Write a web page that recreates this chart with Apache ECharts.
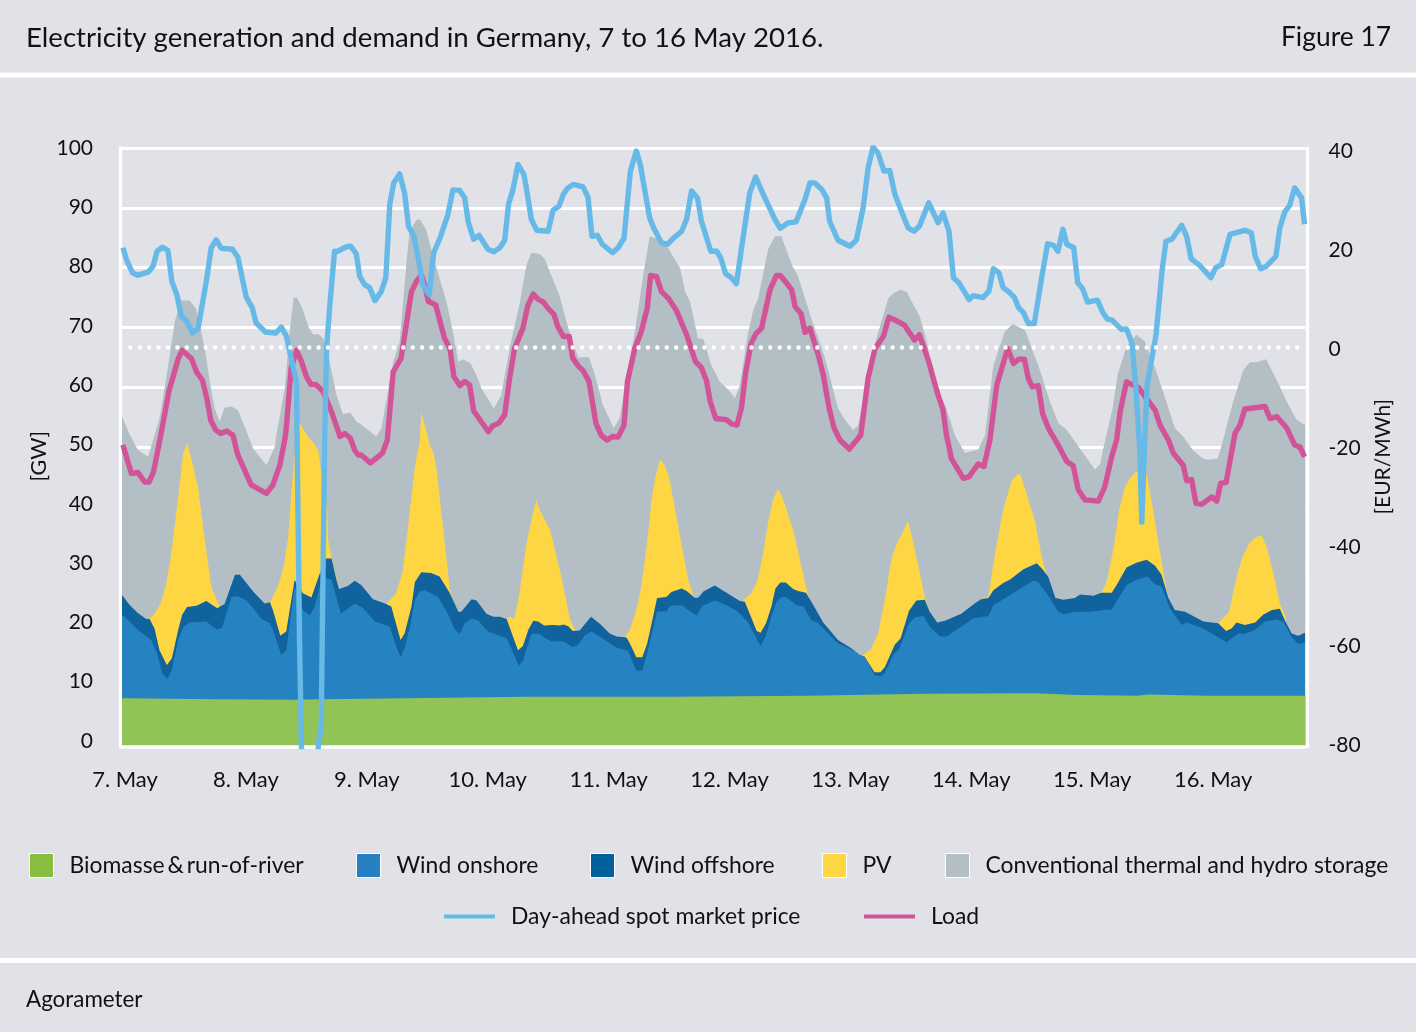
<!DOCTYPE html>
<html>
<head>
<meta charset="utf-8">
<style>
  html, body { margin: 0; padding: 0; background: #e1e2e7; }
  #chart { width: 1416px; height: 1032px; }
</style>
<script src="https://cdn.jsdelivr.net/npm/echarts@6/dist/echarts.min.js"></script>
</head>
<body>
<div id="chart"></div>
<script>
// hours since 7 May 00:00 at each visible kink
const priceHours = [
  0.2,0.9,2.1,3.2,5.3,6.3,7.1,8.2,9.3,10.1,
  11.2,12,13,14.3,15.4,17.1,18.1,19.1,20.1,22.4,
  23.5,25.2,26.4,27.2,29.1,31.2,32.3,33.3,34.3,35.4,
  35.5,36,36.4,36.7,37,38.5,39.6,39.8,40.4,40.6,
  41.1,41.5,42.1,43.1,43.8,45.5,46.4,47.5,48.2,49.2,
  50.2,51.3,52.6,53.5,54.3,55.1,56.3,57.3,58.1,59.2,
  60,61,62.3,63.2,64.4,66.1,67.1,68.5,69.5,70.2,
  71.3,72.4,74.2,75.4,76.6,77.6,78.4,79.3,80.3,81.5,
  82,83,84.1,86.4,87.4,88.6,89.5,90.3,91.5,93.5,
  94.5,95.3,96.4,97.4,99.5,100.6,101.8,103.1,104.3,105.1,
  107,107.8,109.4,110.6,111.8,113.5,114.5,115.5,116.7,117.5,
  119.4,120.6,121.4,122.4,123.6,124.6,125.6,127.3,128.5,129.9,
  132.4,133.5,135.1,136.7,138.5,139.5,140.5,141.9,142.9,143.5,
  145.2,147.6,148.9,150.3,151.3,152.3,153.3,154.5,155.7,156.7,
  158.3,159.4,160.6,161.7,163.6,165.5,166.5,167.7,168.6,169.7,
  171.8,172.6,174.6,175.8,176.7,177.8,178.7,179.9,181,181.8,
  182.8,183.8,185,186.5,187.7,188.9,189.8,190.8,191.6,193,
  193.8,194.8,195.8,197.8,198.9,199.8,200.8,202.7,203.7,204.8,
  205.6,206.4,206.8,207.3,207.9,209.7,210.9,211.7,212.9,214.9,
  215.9,216.8,218.7,220.8,221.8,223,224.7,227.7,229,229.8,
  230.9,232.1,234,234.8,235.8,236.8,237.8,239.2,239.8
];
const priceValues = [
  20,17.6,15,14.5,15.1,16.3,19.3,20.1,19.5,13.3,
  10.3,6.3,5.5,2.9,3.7,13.3,20,21.6,19.9,19.7,
  18.1,10.1,8,4.9,3.1,2.9,4.1,2.4,-2.1,-7.1,
  -18,-59,-80,-105,-130,-130,-92,-80,-75.9,-58.5,
  -18.4,-0.1,8,19.3,19.3,20.2,20.3,18.8,14.3,12.6,
  12,9.4,11.3,14,28.7,33,34.8,31,24.3,22.3,
  18.3,12.6,10.6,19,21.7,26.7,31.6,31.5,30,25.2,
  21.7,22.5,19.7,19.2,20,21.5,28.8,31.7,36.7,34.7,
  32,25.7,23.5,23.3,27.5,28.3,30.7,31.9,32.7,32.2,
  30.1,22.3,22.5,20.7,19,20,21.9,35.4,39.4,36.7,
  26,24,21,20.7,21.9,23.3,25.7,31.4,30,25.3,
  19.3,19.3,18,14.8,14,12.8,19.7,31,34.2,31,
  25.7,23.9,25,25.2,29.7,33,33,31.7,30,25.3,
  21.5,20.3,21.5,28,36,40.2,39,35.4,35.5,30.8,
  26.7,24,23.3,24.3,29,25,27,23.3,14,13,
  9.6,10.4,10,11.3,15.8,15,12,11.1,10,8,
  7,4.8,4.8,14,20.8,20.5,19.3,23.7,20.7,20,
  13,11.8,9.1,9.5,7,5.7,5.5,3.6,3.7,0.9,
  -8,-20.8,-35,-20.8,-7.4,2.6,15.3,21.3,21.7,24.5,
  22.3,17.8,16.3,14,16,16.6,22.7,23.5,23,18.3,
  15.8,16.3,18.3,24,27.2,28.5,32,30,24.7
];

const loadHours = [
  0.2,0.5,1.9,3.2,4.6,5.5,6.4,8,9.5,11.4,
  12.2,14.1,15.1,16.3,17.2,18,19,20,21.3,22.5,
  23.5,26.2,29.3,30.6,32,33,33.3,34.3,35.4,36.4,
  37.4,38.3,39.3,40.8,42.5,44.2,45.2,46.3,47.2,47.9,
  48.5,50.4,51.9,52.8,53.8,55,56.6,58.7,59.7,60.7,
  61.4,62.1,63.6,65.4,66.5,67.3,68.5,69.5,70.5,71.3,
  74.3,75.2,76.4,77.6,78.6,79.6,81.3,82.3,83.4,84.4,
  85.4,86.4,87.6,88.4,89.5,90.7,91.4,92.6,93.5,94.7,
  96.1,97.2,98.4,99.5,100.6,101.8,102.5,104,105.3,106.5,
  107.2,108.4,109.4,110.8,112.4,114.5,116.3,117.5,118.5,119.3,
  120.4,122.6,123.6,124.7,125.6,126.5,127.6,128.5,129.7,131.4,
  132.7,133.5,134.8,135.8,136.5,137.7,138.5,139.5,141.2,142.2,
  143.4,144.4,145.6,147.5,149.8,151.3,152.7,154.4,155.5,156.4,
  158.7,160.7,161.7,163.6,164.8,165.5,166.5,167.2,168.2,170.6,
  171.8,173.6,174.8,176,177.4,179.6,180.8,181.8,183,183.8,
  184.6,185.8,186.7,187.9,190.2,191.6,192.9,193.9,195.3,198,
  199.3,200.7,201.7,202.4,203.7,206.1,209.5,210.5,212.2,213.2,
  215.2,215.9,216.9,217.8,219,221,222,222.8,223.9,225.7,
  226.7,227.7,231.8,232.8,234.2,236.2,237.8,238.9,239.8
];
const loadValues = [
  50.4,49.5,45.6,45.8,44.2,44.2,45.9,52.6,59.3,64.8,
  66.2,64.8,62.6,61.2,58.2,54.5,52.9,52.3,52.7,52,
  48.7,43.7,42.3,43.7,47,51.2,53.1,63.2,66.2,64.3,
  61.8,60.5,60.5,59.3,55.9,51.8,52.3,51.5,49.5,48.7,
  48.7,47.4,48.4,49,51.2,62.6,64.9,76,77.7,78.8,
  77.1,74.4,73.8,68.2,66.5,61.8,60.3,61,60.4,56.1,
  52.6,53.6,54,55.4,61.5,66.5,69.9,73.7,75.6,74.7,
  74.3,73.2,72.2,70.1,68.5,68.5,64.9,63.5,62.8,61,
  54,52,51.2,51.8,51.7,53.7,61,66.5,69.3,73.2,
  78.7,78.5,76,74.9,72.9,68.8,64.3,63.3,61.2,57.6,
  54.8,54.6,53.9,53.7,56.5,62.6,67.4,68.9,69.9,76.3,
  78.7,78.7,77.4,76.3,73.5,72.3,69.2,69.9,65.4,62.1,
  56.5,53.2,51.2,49.7,52,61.5,66.5,68.5,71.7,71.4,
  70.4,67.9,68.8,64.3,60.7,58.7,56.2,52,48.1,44.8,
  45.1,47.2,46.8,51.2,60.4,66.5,64,64.7,64.7,61.5,
  60.1,60.3,55.6,53.1,49.8,47.6,46.9,42.9,41.2,41,
  43.4,48.4,51.2,55.9,60.9,60,56.2,53.7,51.2,49,
  47,44.4,44.6,40.6,40.5,41.7,41,44,44.1,52.3,
  53.7,56.4,56.8,54.8,55.1,53.2,50.4,50,48.4
];

// upper edge of each band in GW, as read on the stacked picture
const conventionalHours = [
  0,1.6,3.2,5.3,5.9,7.6,9.3,10.7,12,13.7,
  15,16.8,17.8,18.8,19.8,20.8,22.2,23.5,24.9,26.6,
  29.3,31,31.3,33,34,34.8,35.5,36.7,37.9,38.7,
  39.8,40.8,42.1,43.5,44.8,46.3,47.5,48.5,51.6,52.6,
  55,56.3,57.7,58.3,59.7,60.5,61.7,63.4,65.8,67.1,
  68.2,69.2,70.7,71.9,72.9,75.4,76.9,78.6,80.7,82,
  83,84.7,85.7,88.7,90.7,92.5,94.7,95.9,97.5,99.7,
  100.9,101.9,104,105.7,107,108.4,110.8,113.2,114.2,115.2,
  116.8,117.9,119.5,121.2,122.9,124.3,125.3,127,128,129,
  131,132.4,133.7,136,137,139.8,142.5,145.2,146.6,148.3,
  149.3,151.3,153,155.4,156.4,157.8,159.1,161.8,163.2,164.8,
  166.9,168.9,170.9,173.6,175,176.7,179,180.6,183.1,185.8,
  188.2,189.9,191.6,194,197.3,198.4,199,200.9,201.9,203.7,
  205.7,207.4,209.5,211.5,213.5,215.2,217.2,219.2,220.2,222.2,
  223.3,225.3,227.4,228.7,230.1,232,234.5,236.2,238.2,239.9
];
const conventionalTop = [
  55.1,52.1,49.6,48.4,50.1,54.8,63.2,71,74.5,74.5,
  73.2,66.5,61,56.5,54.3,56.6,56.8,56.2,53.4,49.8,
  47,50.1,52,59.8,69.3,75,75,72.9,70,68.9,
  68.9,68.2,64.3,58.7,55.5,55.8,54.3,53.8,51.8,53.2,
  64.3,67.6,81,86,88,88,86.3,81,74.3,69.3,
  64.3,64.7,64,62,59.8,56.5,58.7,66.5,74.3,80.4,
  82.5,82.3,81.5,75.4,69.3,65,65.1,62.1,57.1,53.2,
  54.8,59.8,69.3,78.8,85.2,84.9,83.2,79.9,76,74.3,
  68.2,68.1,63.7,61,59.7,58.2,60.4,69.3,72.9,74.9,
  83,85.3,85.2,80.2,78.8,71.5,65.1,56.5,54.6,52.9,
  53.7,62.1,68.2,74.9,75.7,76.3,76,71.8,67.7,60.4,
  57.1,52,49.1,49.6,52,63.7,69.3,70.6,69.6,63.7,
  57.6,54,52.9,50.1,46.3,47.3,49.8,56.5,62.1,66.8,
  68.8,67.7,63.3,58.3,53.2,51.8,49.5,48.1,47.9,48.1,
  51.2,57.6,62.9,64.2,64.2,64.7,60.7,57.6,54.6,53.7
];

// PV only shows by day, null closes a day's patch
const pvHours = [
  5.6,6.6,8,9,10,11.4,12.4,13.2,14.1,15.4,16.8,18.1,18.8,19.9,null,
  30,31.6,32.8,33.7,34.5,34.9,36,37.9,38.7,39.8,40.3,41.6,41.8,42.5,43.1,43.6,null,
  53.6,55.6,56.9,57.7,58.7,59.4,60.4,60.7,62.4,63.2,63.8,65.1,66.5,67.1,68,null,
  78,78.6,79.6,80.6,82,83,84,85,86.8,88.8,90.8,91.8,null,
  102,103,104.3,105.3,106.4,107.4,108.2,109.1,110.1,111.1,112.8,114.8,116,null,
  125.9,127.6,128.9,129.9,131,132,133,133.9,136.1,137.8,139.1,139.8,null,
  150.3,152,153.3,154.7,156,157.1,158.4,159.4,160.8,161.8,162.8,163.8,null,
  174.2,175.7,176.3,177.4,178.7,180.3,181.1,182.1,183.4,185.1,186.5,187.6,null,
  198.6,199.6,201,202.2,203.4,204.4,205.7,207.8,209.1,210.2,211.5,212.2,null,
  222.3,224.5,225.3,226.4,227.4,228.8,230.1,231.1,232.1,233.5,234.8,236
];
const pvTop = [
  21.3,22.2,24.2,27.3,32.3,41.7,49,50.7,47.9,43.4,34.5,26.7,25.3,23.2,null,
  24.1,26.7,30,35,43.9,48.4,54,51.5,50.9,49.5,46.2,40.1,34.5,31.4,29.5,27.8,null,
  23.8,25.6,29.2,34.5,41.7,46.8,51.2,55.9,50.4,49,46.2,36.7,26.1,24.5,22.5,null,
  21.3,21.7,21.4,25.6,33.9,37.8,41.2,39,36.2,29.5,21.4,19.5,null,
  18.3,19.5,22.8,26.7,33.4,41.2,45.1,47.9,47,44.5,36.7,27.8,25,null,
  24.3,25.6,27.8,31.7,37.3,41.2,43,41.7,36.2,30,25.3,24.2,null,
  15.3,16.4,18.9,24.5,31.2,33.9,35.9,37.7,32.8,28.9,25,22.5,null,
  24.6,25,28.4,33.9,39.5,44.2,45.1,45.6,42.3,37.8,31.7,28.4,null,
  25.7,27.3,32.8,39.5,43.4,44.8,45.9,45.4,39.5,33.9,27.5,24.8,null,
  20.6,22.5,25.6,29.5,32,34.2,35,35.3,33.4,28.9,23.9,21.7
];

const offshoreHours = [
  0,1.6,3.2,4.9,5.6,6.6,7.6,9.1,10.1,11.4,
  12.2,13.2,15.1,17.1,19.3,20.8,22.9,23.9,26.6,28.9,
  30,30.6,32.1,33.3,35,36.7,38.4,40.1,41.4,42.5,
  43.5,44,45.8,47.2,48.5,50.9,53.6,54.6,56.5,57.3,
  58.7,59.4,60.7,62.7,64.4,66.5,68.2,68.8,70.9,71.9,
  73.9,75.3,76.6,78,80.3,81.3,82.4,83.4,84.4,85.6,
  87.4,88.8,89.5,90.5,91.4,92.8,95.1,96.9,98.9,100.3,
  102.3,103,104.3,105.5,106.5,107.7,108.5,110.4,111.4,113.5,
  114.5,116.2,116.9,117.9,120.2,122.6,125.3,126.3,127.3,128.7,
  129.5,130.6,131.7,132.5,133.5,134.6,136.1,137.1,138.7,139.8,
  141.2,142.2,145.2,147.9,149.6,150.6,152.6,153.8,154.7,156.7,
  157.9,159.6,161.1,162.8,163.8,165.3,166.9,170.2,172.9,174.2,
  175.7,176.7,178.7,180.1,182.8,185.5,186.5,187.8,189.3,190.9,
  193.2,194.3,197,198.6,200.7,201.7,203.7,205.7,207.8,209.5,
  210.8,212.2,213.5,215.6,219.3,222.3,223.9,225,226,227.7,
  229.8,231.4,233.2,234.8,235.8,237.2,238.5,239.9
];
const offshoreTop = [
  25.3,23.6,22.3,21.3,21.3,19.7,16.1,13.6,14.7,19.5,
  22,23.3,23.5,24.3,23.1,23.8,28.7,28.7,25.9,23.9,
  24.1,22.8,18.5,19.2,27.8,25.6,24.9,28.9,31.4,31.4,
  27.8,26.3,26.8,27.7,27,24.6,23.8,23.4,17.8,18.9,
  23.4,27.5,29.1,29,28.4,25.6,22.5,22.5,24.6,24.4,
  22.2,21.7,21.7,21.3,16.1,16.8,19.5,21,20.9,20.2,
  20.3,20.2,20.4,20.1,19.3,19.4,21.7,20.5,18.9,18.4,
  18.2,17.2,14.9,14.9,17.2,21.7,24.8,25,25.8,26.4,
  26,24.8,24.9,25.9,26.9,25.7,24.3,24.2,22.2,19.3,
  19,20.6,23.4,26.4,27.4,27.4,26.3,26,25.7,24.2,
  22.2,20.7,17.8,16.4,15.3,15,12.4,12.4,13.3,17,
  18.1,22.7,24.4,24.5,22.5,20.7,21,22.2,23.9,24.6,
  24.8,26.1,27.3,27.9,29.6,30.6,29.8,28.4,24.8,24.5,
  24.8,25.4,25.2,25.7,25.7,27,29.9,30.7,31.2,30.2,
  28.7,24.8,22.8,22.5,20.9,20.6,19.3,19.7,20.7,20.3,
  20.7,22,22.8,23,21.1,18.9,18.5,19
];

const onshoreHours = [
  0,0.9,3.2,5.9,7,8.2,9.2,10.1,11.4,12.5,
  13.7,17.1,19.3,20.3,22.2,23.5,25.2,26.6,28.3,30,
  30.6,32.3,33.3,35,36.7,38.1,39.1,40.1,41.4,42.5,
  44.4,47.2,48.9,51.3,54.3,55.6,56.5,57.3,58.4,59.4,
  60.4,61.4,64.1,66.1,67.5,68.5,69.5,70.9,72.2,74.2,
  78,80.5,81.3,83,84.4,85.6,87.1,89.5,91.4,92.5,
  93.9,95.2,96.9,100.3,102.6,104.3,105.5,106.5,108.5,110.4,
  111.2,113.5,114.8,116.5,117.7,118.9,120.2,122.6,124.9,127,
  128.7,129.5,130.6,131.7,132.7,133.7,134.6,136.8,138.2,139.8,
  141.2,145.2,147.9,149.6,150.6,152.6,153.9,154.7,156.4,157.7,
  159.6,160.8,162.5,163.8,165.9,167.2,170.2,172.6,175.7,176.7,
  178.7,180.4,182.8,184.8,185.8,187.5,189.9,190.9,193.2,196.6,
  199,200.7,203.7,205.7,207.9,209.5,210.8,212.5,214.9,215.9,
  219.3,222,224,226.4,227.7,229.8,231.8,234.2,235.5,237.2,
  238.5,239.9
];
const onshoreTop = [
  22,21.4,19.5,17.8,15.8,12.2,11.3,12.8,17.8,20,
  20.7,20.9,19.5,19.9,25,25.1,24.4,23.1,21.3,20.6,
  19.5,15.3,16.1,26.7,22.8,21.9,23.4,26.7,28.1,27.8,
  22.2,23.9,23.1,20.9,20,16.7,14.9,16.4,20,24.5,
  25.9,26.1,25,22.2,19.5,18.8,20.6,21.4,21.1,19.2,
  18.1,13.5,14.3,18.8,18.9,18.2,17.6,17.6,16.6,17,
  18.6,19.2,18.4,16.5,16,12.7,12.7,15.6,22.5,22.6,
  23.5,23.6,22.8,21.9,23.5,23.9,24.4,23.6,22.5,20.7,
  18,16.8,18.6,21.7,24.1,25,25,23.6,23.4,21.1,
  20.6,17.2,16.2,15.3,15,11.9,11.8,12.3,15.3,16.4,
  20.6,21.6,21.8,20,18.4,18.4,20,21.4,21.8,23.6,
  24.6,25.5,26.7,27.7,27.5,25.6,22.5,22.1,22.5,22.5,
  22.8,22.9,27,27.8,28.4,27.1,26.7,23.1,20.3,20.7,
  19.7,18.4,17.4,18.9,18.8,19.5,20.9,21.2,20.9,18.3,
  17.1,17.4
];

const biomassHours = [0, 19, 35, 41, 82, 92, 112, 139, 163, 185, 194, 206, 208, 220, 240];
const biomassTop = [8.05, 7.9, 7.8, 7.9, 8.3, 8.3, 8.3, 8.5, 8.8, 8.9, 8.6, 8.5, 8.7, 8.5, 8.5];

const zeroLineHours = [1.7, 238.6];
const zeroLineValues = [0, 0];

const leftTicks = [0, 10, 20, 30, 40, 50, 60, 70, 80, 90, 100];
const rightTicks = [-80, -60, -40, -20, 0, 20, 40];
const dayLabels = ['7. May', '8. May', '9. May', '10. May', '11. May', '12. May', '13. May', '14. May', '15. May', '16. May'];

const NAMES = {
    biomass: 'Biomasse\u2009&\u2009run-of-river',
    onshore: 'Wind onshore',
    offshore: 'Wind offshore',
    pv: 'PV',
    conv: 'Conventional thermal and hydro storage',
    price: 'Day-ahead spot market price',
    load: 'Load'
};
const COLORS = {
    bg: '#e1e2e7', text: '#111111',
    biomass: '#92c356', onshore: '#2583c2', offshore: '#11639d', pv: '#fed643', conv: '#b4bfc5',
    price: '#67b9e7', load: '#d25398'
};
const FONT = 'Lato, "Noto Sans", sans-serif';

function pairs(xs, ys) {
    return xs.map((x, i) => (x === null ? [null, null] : [x, ys[i]]));
}

function band(name, xs, ys, color) {
    return {
        name, type: 'line', data: pairs(xs, ys), xAxisIndex: 0, yAxisIndex: 0,
        showSymbol: false, silent: true, connectNulls: false,
        lineStyle: { width: 0 }, itemStyle: { color },
        areaStyle: { color, opacity: 1 }
    };
}

function curve(name, xs, ys, color, yAxisIndex) {
    return {
        name, type: 'line', data: pairs(xs, ys), xAxisIndex: 0, yAxisIndex, z: 4,
        showSymbol: false, silent: true,
        lineStyle: { width: 5.4, color, join: 'round' }, itemStyle: { color }
    };
}

// every legend entry sits on its own spot, as in the figure
function legendEntry(name, left, top, color, isLine) {
    return {
        left, top, selectedMode: false, padding: 0, orient: 'horizontal',
        itemWidth: isLine ? 51 : 24, itemHeight: isLine ? 4 : 24, icon: 'rect',
        textStyle: { fontFamily: FONT, fontSize: 22.9, fontWeight: 400, color: COLORS.text, padding: [0, 0, 0, 11] },
        itemStyle: isLine ? { color, borderWidth: 0 } : { color, borderColor: '#fff', borderWidth: 1 },
        data: [{ name }]
    };
}

const chart = echarts.init(document.getElementById('chart'), null, { renderer: 'canvas' });
chart.setOption({
    animation: false,
    backgroundColor: COLORS.bg,
    title: [
        { text: 'Electricity generation and demand in Germany, 7 to 16 May 2016.', left: 26, top: 24, padding: 0,
          textStyle: { fontFamily: FONT, fontSize: 27.6, fontWeight: 400, color: COLORS.text } },
        { text: 'Figure 17', right: 25, top: 24, padding: 0,
          textStyle: { fontFamily: FONT, fontSize: 26.4, fontWeight: 400, color: COLORS.text } },
        { text: 'Agorameter', left: 26, top: 989, padding: 0,
          textStyle: { fontFamily: FONT, fontSize: 22.4, fontWeight: 400, color: COLORS.text } }
    ],
    graphic: [
        { type: 'rect', shape: { x: 0, y: 72.5, width: 1416, height: 5 }, style: { fill: '#fff' }, silent: true },
        { type: 'rect', shape: { x: 0, y: 958, width: 1416, height: 5 }, style: { fill: '#fff' }, silent: true }
    ],
    legend: [
        legendEntry(NAMES.biomass, 29, 853, '#86bf3f', false),
        legendEntry(NAMES.onshore, 356, 853, '#2780c4', false),
        legendEntry(NAMES.offshore, 590, 853, '#00609a', false),
        legendEntry(NAMES.pv, 822, 853, '#fed643', false),
        legendEntry(NAMES.conv, 945, 853, '#b4bfc5', false),
        legendEntry(NAMES.price, 444, 905, COLORS.price, true),
        legendEntry(NAMES.load, 864, 905, COLORS.load, true)
    ],
    grid: { left: 122, top: 148, width: 1183.5, height: 598.5, containLabel: false },
    xAxis: [
        { // hours, carries the series and the thick base line
          type: 'value', min: 0, max: 240, z: 3,
          axisLine: { show: true, onZero: false, lineStyle: { color: '#fff', width: 3.5 } },
          axisTick: { show: false }, axisLabel: { show: false }, splitLine: { show: false } },
        { // day labels do not follow the hourly scale exactly in the figure
          type: 'value', min: -0.025, max: 9.764, position: 'bottom',
          axisLine: { show: false }, axisTick: { show: false }, splitLine: { show: false },
          axisLabel: { customValues: dayLabels.map((d, i) => i), margin: 22, hideOverlap: false,
            showMinLabel: true, showMaxLabel: true,
            formatter: v => dayLabels[v], fontFamily: FONT, fontSize: 22, fontWeight: 400, color: COLORS.text } }
    ],
    yAxis: [
        { type: 'value', min: 0, max: 100, interval: 10, position: 'left', offset: 1.5,
          axisLine: { show: true, onZero: false, lineStyle: { color: '#fff', width: 3.3 } },
          axisTick: { show: false }, axisLabel: { show: false },
          splitLine: { show: true, lineStyle: { color: '#fff', width: 3 } } },
        { type: 'value', min: -80, max: 40, interval: 20, position: 'right', offset: 2,
          axisLine: { show: true, onZero: false, lineStyle: { color: '#fff', width: 3.3 } },
          axisTick: { show: false }, axisLabel: { show: false }, splitLine: { show: false } },
        { // left labels, slightly tighter than the gridlines in the figure
          type: 'value', min: -0.93, max: 100, position: 'left',
          axisLine: { show: false }, axisTick: { show: false }, splitLine: { show: false },
          name: '[GW]', nameLocation: 'middle', nameGap: 72, nameRotate: 90, nameMoveOverlap: false,
          nameTextStyle: { fontFamily: FONT, fontSize: 21.5, fontWeight: 400, color: COLORS.text, padding: [0, 18, 0, 0] },
          axisLabel: { customValues: leftTicks, margin: 29, showMinLabel: true, showMaxLabel: true,
            fontFamily: FONT, fontSize: 21, fontWeight: 400, color: COLORS.text } },
        { type: 'value', min: -80.3, max: 40.6, position: 'right',
          axisLine: { show: false }, axisTick: { show: false }, splitLine: { show: false },
          name: '[EUR/MWh]', nameLocation: 'middle', nameGap: 67, nameRotate: 90,
          nameTextStyle: { fontFamily: FONT, fontSize: 21, fontWeight: 400, color: COLORS.text, padding: [0, 19, 0, 0] },
          axisLabel: { customValues: rightTicks, margin: 23, showMinLabel: true, showMaxLabel: true,
            fontFamily: FONT, fontSize: 21, fontWeight: 400, color: COLORS.text } }
    ],
    series: [
        band(NAMES.conv, conventionalHours, conventionalTop, COLORS.conv),
        band(NAMES.pv, pvHours, pvTop, COLORS.pv),
        band(NAMES.offshore, offshoreHours, offshoreTop, COLORS.offshore),
        band(NAMES.onshore, onshoreHours, onshoreTop, COLORS.onshore),
        band(NAMES.biomass, biomassHours, biomassTop, COLORS.biomass),
        curve(NAMES.load, loadHours, loadValues, COLORS.load, 0),
        curve(NAMES.price, priceHours, priceValues, COLORS.price, 1),
        { // dotted zero line of the price axis
          name: 'zero', type: 'line', data: pairs(zeroLineHours, zeroLineValues), xAxisIndex: 0, yAxisIndex: 1, z: 5,
          showSymbol: false, silent: true,
          lineStyle: { color: '#fff', width: 4.4, type: [0.01, 9.4], cap: 'round' } }
    ]
});
</script>
</body>
</html>
